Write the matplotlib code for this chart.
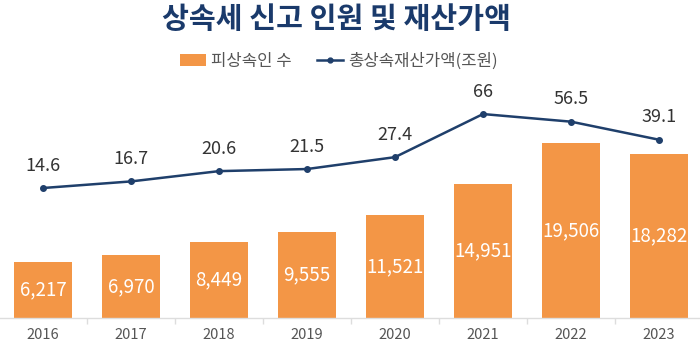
import matplotlib
matplotlib.use("Agg")
import matplotlib.pyplot as plt
from matplotlib.lines import Line2D
from matplotlib.patches import Patch

plt.rcParams['font.family'] = ['Noto Sans CJK KR', 'DejaVu Sans']

years = ['2016', '2017', '2018', '2019', '2020', '2021', '2022', '2023']
decedents = [6217, 6970, 8449, 9555, 11521, 14951, 19506, 18282]
assets = [14.6, 16.7, 20.6, 21.5, 27.4, 66, 56.5, 39.1]

title = '상속세 신고 인원 및 재산가액'
bar_label = '피상속인 수'
line_label = '총상속재산가액(조원)'

ORANGE = '#F39646'
NAVY = '#1F3F6B'

fig = plt.figure(figsize=(7, 3.5), dpi=100)
ax = fig.add_axes([-1/700, 32/350, 704/700, 218/350])
x = list(range(len(years)))

bars = ax.bar(x, decedents, width=0.66, color=ORANGE, zorder=2)
for xi, v in zip(x, decedents):
    ax.text(xi, v / 2, f'{v:,}', ha='center', va='center', color='white',
            fontsize=13.5, zorder=3)

ax.set_xlim(-0.5, 7.5)
ax.set_ylim(0, 24300)
ax.set_yticks([])
for s in ['top', 'right', 'left']:
    ax.spines[s].set_visible(False)
ax.spines['bottom'].set_color('#dddddd')
ax.spines['bottom'].set_linewidth(1.0)
ax.set_xticks(x)
ax.set_xticklabels(years, fontsize=10.5, color='#555555')
ax.tick_params(axis='x', length=0, pad=7)
ax.set_xticks([i + 0.5 for i in range(len(years) - 1)], minor=True)
ax.tick_params(axis='x', which='minor', length=4, color='#dddddd', width=1)

ax2 = ax.twinx()
ax2.set_yscale('log')
ax2.set_ylim(1.03, 87.9)
ax2.plot(x, assets, color=NAVY, linewidth=1.8, marker='o', markersize=4, zorder=4)
for xi, v in zip(x, assets):
    ax2.annotate(f'{v:g}', (xi, v), xytext=(0, 16), textcoords='offset points',
                 ha='center', va='center', fontsize=13, color='#333333')
ax2.set_yticks([])
ax2.set_yticks([], minor=True)
for s in ['top', 'right', 'left', 'bottom']:
    ax2.spines[s].set_visible(False)

fig.text(337/700, 1 - 19/350, title, ha='center', va='center', fontsize=21,
         fontweight='black', color='#1A3A6B')

handles = [Patch(facecolor=ORANGE, edgecolor='none'),
           Line2D([0], [0], color=NAVY, linewidth=1.8, marker='o', markersize=3.5)]
fig.legend(handles, [bar_label, line_label], loc='center',
           bbox_to_anchor=(0.484, 1 - 61/350), ncol=2, frameon=False,
           fontsize=12, labelcolor='#555555', handlelength=1.6,
           handletextpad=0.3, columnspacing=1.5)

fig.savefig('out.png', dpi=100)
